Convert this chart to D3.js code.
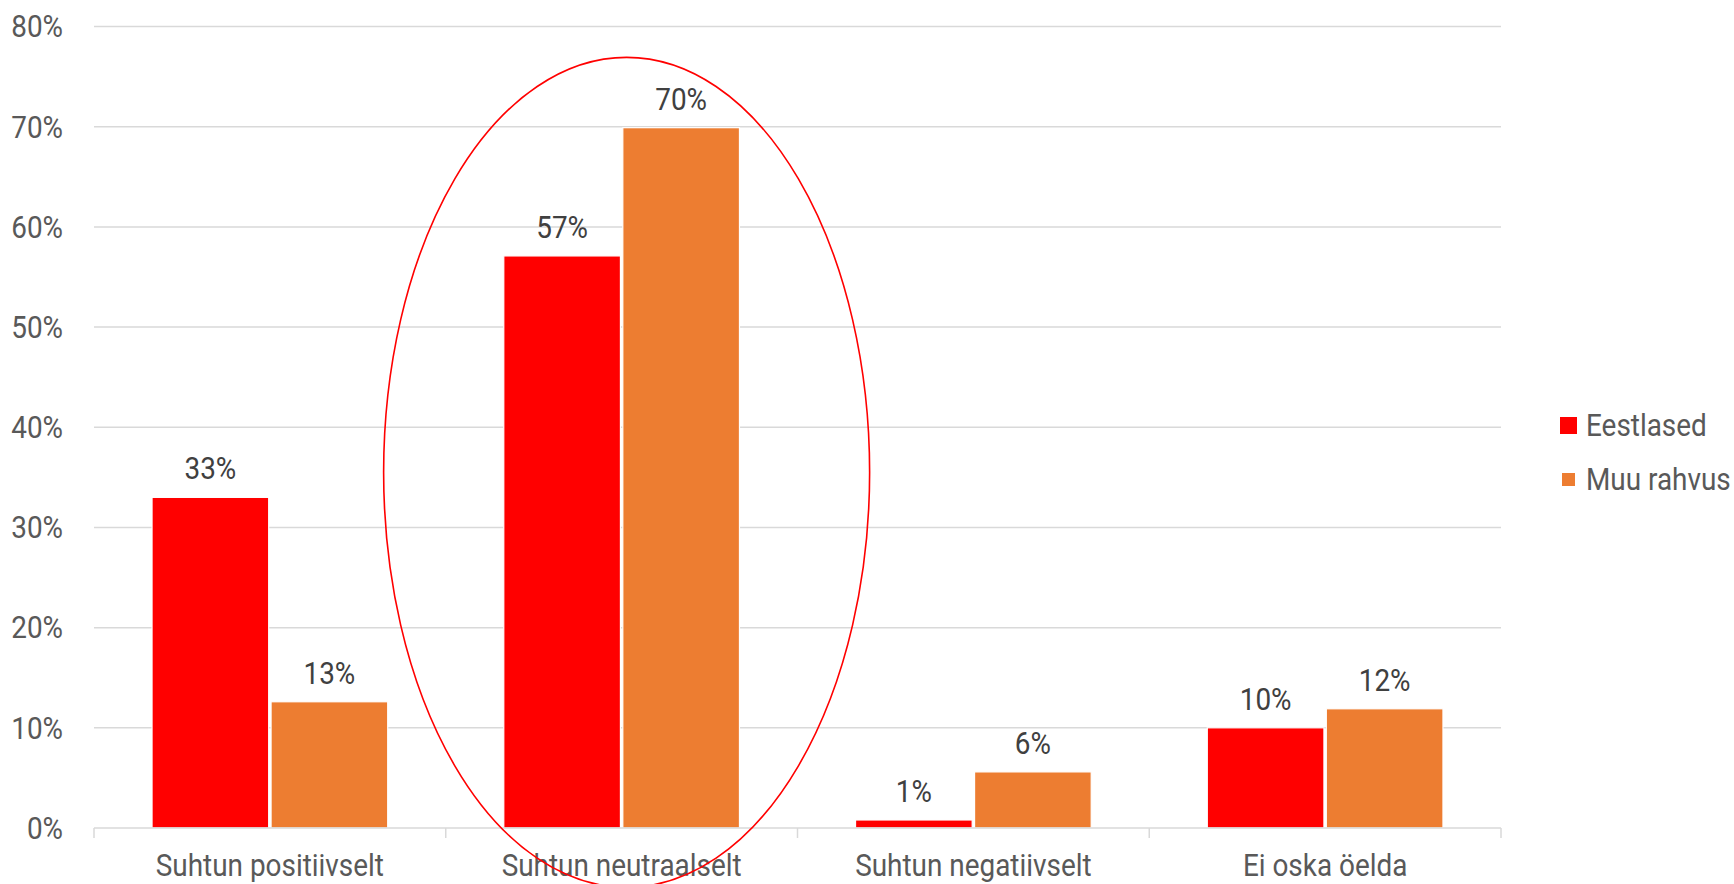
<!doctype html>
<html lang="et">
<head>
  <meta charset="utf-8">
  <title>Suhtumine</title>
  <script src="https://d3js.org/d3.v7.min.js"></script>
  <style>
    body { margin: 0px; background: #fff; }
    svg { display: block; }
    text { font-family: Roboto, "Noto Sans", sans-serif; }
  </style>
</head>
<body>
  <div id="container"></div>
  <script>
    // data
    var categories = ["Suhtun positiivselt", "Suhtun neutraalselt", "Suhtun negatiivselt", "Ei oska öelda"];
    var seriesNames = ["Eestlased", "Muu rahvus"];
    var eestlased = [0.330, 0.571, 0.008, 0.100];
    var muuRahvus = [0.126, 0.699, 0.056, 0.119];
    var yTicks = [0, 0.1, 0.2, 0.3, 0.4, 0.5, 0.6, 0.7, 0.8];
    var colors = ["#ff0000", "#ed7d31"];

    var W = 1734, H = 884;
    var margin = { top: 26.5, right: 233, bottom: 56, left: 94 };
    var width = W - margin.left - margin.right,
        height = H - margin.top - margin.bottom;
    var sx = 0.9; // squeeze Roboto towards a condensed look
    var fs = '31px';

    var svg = d3.select('div#container').append('svg')
      .attr('width', W)
      .attr('height', H);

    var g = svg.append('g')
      .attr('transform', 'translate(' + margin.left + ',' + margin.top + ')');

    var x0 = d3.scaleBand()
      .domain(categories)
      .range([0, width])
      .paddingInner(0.33)
      .paddingOuter(0.165);

    var x1 = d3.scaleBand()
      .domain(seriesNames)
      .range([0, x0.bandwidth()])
      .paddingInner(0.02);

    var y = d3.scaleLinear()
      .domain([0, 0.8])
      .range([height, 0]);

    var pct = d3.format('.0%');

    // gridlines
    g.append('g').selectAll('line')
      .data(yTicks.slice(1))
      .enter().append('line')
        .attr('x1', 0).attr('x2', width)
        .attr('y1', function(d) { return y(d); })
        .attr('y2', function(d) { return y(d); })
        .attr('stroke', '#d9d9d9')
        .attr('stroke-width', 1.5);

    // y labels
    g.append('g').selectAll('text')
      .data(yTicks)
      .enter().append('text')
        .attr('transform', function(d) { return 'translate(-31,' + y(d) + ') scale(' + sx + ',1)'; })
        .attr('text-anchor', 'end')
        .attr('dy', '0.35em')
        .attr('fill', '#595959')
        .style('font-size', fs)
        .text(function(d) { return pct(d); });

    // bars
    var rows = categories.map(function(c, i) {
      return { cat: c, vals: [{ s: seriesNames[0], v: eestlased[i], c: colors[0] },
                              { s: seriesNames[1], v: muuRahvus[i], c: colors[1] }] };
    });

    var groups = g.append('g').selectAll('g')
      .data(rows)
      .enter().append('g')
        .attr('transform', function(d) { return 'translate(' + x0(d.cat) + ',0)'; });

    groups.selectAll('rect')
      .data(function(d) { return d.vals; })
      .enter().append('rect')
        .attr('x', function(d) { return x1(d.s); })
        .attr('y', function(d) { return y(d.v); })
        .attr('width', x1.bandwidth())
        .attr('height', function(d) { return y(0) - y(d.v); })
        .attr('fill', function(d) { return d.c; })
        .attr('stroke', '#fff')
        .attr('stroke-width', 1.2);

    groups.selectAll('text')
      .data(function(d) { return d.vals; })
      .enter().append('text')
        .attr('transform', function(d) {
          return 'translate(' + (x1(d.s) + x1.bandwidth() / 2) + ',' + (y(d.v) - 18) + ') scale(' + sx + ',1)';
        })
        .attr('text-anchor', 'middle')
        .attr('fill', '#404040')
        .style('font-size', fs)
        .text(function(d) { return pct(d.v); });

    // x axis line, ticks and labels
    var ax = g.append('g').attr('transform', 'translate(0,' + height + ')');
    ax.append('line')
      .attr('x1', 0).attr('x2', width)
      .attr('stroke', '#d9d9d9').attr('stroke-width', 1.5);
    var step = width / categories.length;
    ax.selectAll('line.tk')
      .data(d3.range(categories.length + 1))
      .enter().append('line')
        .attr('class', 'tk')
        .attr('x1', function(i) { return i * step; })
        .attr('x2', function(i) { return i * step; })
        .attr('y1', 0).attr('y2', 10)
        .attr('stroke', '#d9d9d9').attr('stroke-width', 1.5);
    ax.selectAll('text')
      .data(categories)
      .enter().append('text')
        .attr('transform', function(d) { return 'translate(' + (x0(d) + x0.bandwidth() / 2) + ',48) scale(' + sx + ',1)'; })
        .attr('text-anchor', 'middle')
        .attr('fill', '#595959')
        .style('font-size', fs)
        .text(function(d) { return d; });

    // ellipse around the neutral group
    var cx = x0(categories[1]) + x0.bandwidth() / 2 + 5;
    svg.append('ellipse')
      .attr('cx', margin.left + cx)
      .attr('cy', margin.top + y(0.355))
      .attr('rx', 243)
      .attr('ry', 415)
      .attr('fill', 'none')
      .attr('stroke', '#ff0000')
      .attr('stroke-width', 1.6);

    // title, almost entirely cut off at top
    svg.append('text')
      .attr('transform', 'translate(699,0) scale(' + sx + ',1)')
      .attr('text-anchor', 'middle')
      .attr('fill', '#404040')
      .style('font-size', '32px')
      .text('Suhtumine');

    // legend
    var lg = svg.append('g').attr('transform', 'translate(1560,0)');
    var legendY = [425.5, 479.5];
    var boxSize = [17, 13];
    seriesNames.forEach(function(s, i) {
      lg.append('rect')
        .attr('x', (17 - boxSize[i]) / 2)
        .attr('y', legendY[i] - boxSize[i] / 2)
        .attr('width', boxSize[i]).attr('height', boxSize[i])
        .attr('fill', colors[i]);
      lg.append('text')
        .attr('transform', 'translate(26,' + legendY[i] + ') scale(' + sx + ',1)')
        .attr('dy', '0.35em')
        .attr('fill', '#595959')
        .style('font-size', fs)
        .text(s);
    });
  </script>
</body>
</html>
